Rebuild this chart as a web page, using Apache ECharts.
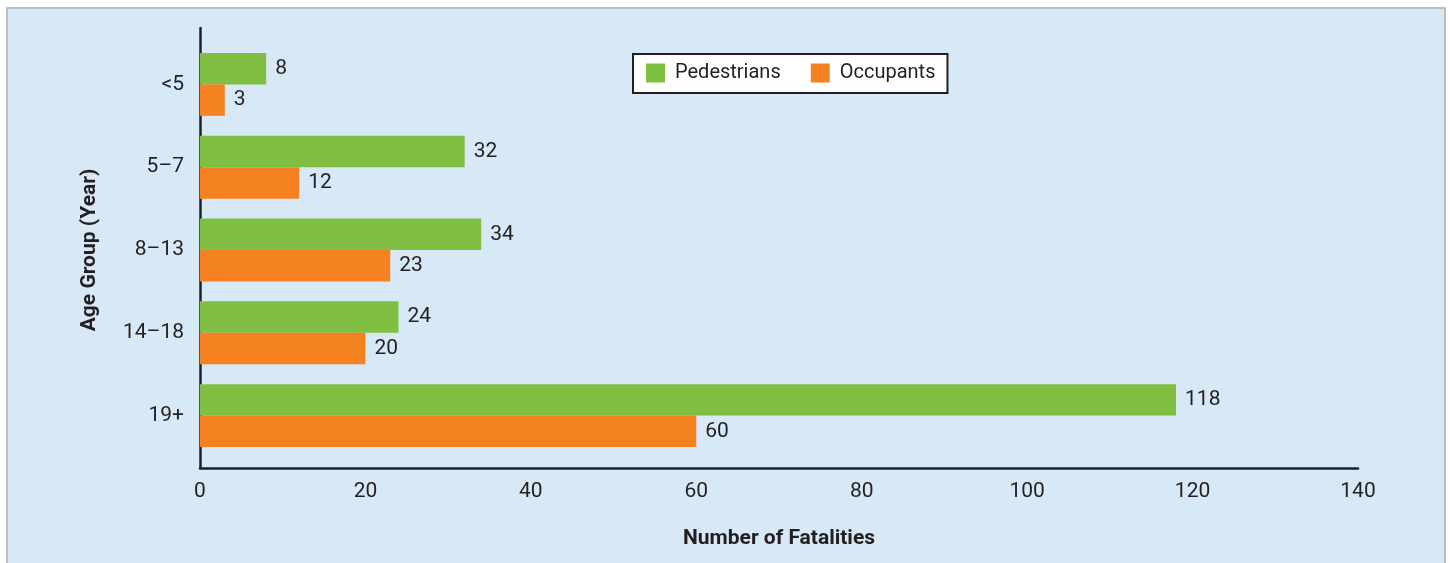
<!DOCTYPE html>
<html>
<head>
<meta charset="utf-8">
<script src="https://cdn.jsdelivr.net/npm/echarts@6/dist/echarts.min.js"></script>
<style>
html,body{margin:0;padding:0;background:#fff;}
#chart{width:1450px;height:563px;}
</style>
</head>
<body>
<div id="chart"></div>
<script>
const categories = ['<5', '5\u20137', '8\u201313', '14\u201318', '19+'];
const pedestrians = [8, 32, 34, 24, 118];
const occupants = [3, 12, 23, 20, 60];
const xTicks = { min: 0, max: 140, interval: 20 };

const FONT = 'Roboto, "Liberation Sans", sans-serif';
const INK = '#231f20';
const FS = 21;

const chart = echarts.init(document.getElementById('chart'));
chart.setOption({
  animation: false,
  backgroundColor: 'transparent',
  graphic: [{
    type: 'rect', z: -10, silent: true,
    shape: { x: 7, y: 8, width: 1438, height: 560 },
    style: { fill: '#d7e9f7', stroke: '#bdbdbd', lineWidth: 2 }
  }],
  legend: {
    left: 633, top: 54,
    orient: 'horizontal',
    backgroundColor: '#ffffff',
    borderColor: INK, borderWidth: 2,
    padding: [9, 12, 10, 13],
    itemWidth: 19, itemHeight: 19, itemGap: 30,
    icon: 'rect',
    textStyle: { fontFamily: FONT, fontSize: 20, color: INK, padding: [0, 0, 0, 5] },
    data: ['Pedestrians', 'Occupants']
  },
  grid: [
    { left: 200, width: 1158, top: 43, height: 414, containLabel: false },
    { left: 200, width: 1158, top: 28, height: 440, containLabel: false }
  ],
  xAxis: [{
    gridIndex: 0, type: 'value', min: xTicks.min, max: xTicks.max, interval: xTicks.interval,
    offset: 11,
    axisLine: { show: true, lineStyle: { color: INK, width: 2.5 } },
    axisTick: { show: false },
    splitLine: { show: false },
    axisLabel: { fontFamily: FONT, fontSize: FS, color: INK, margin: 13 },
    name: 'Number of Fatalities', nameLocation: 'middle', nameGap: 60,
    nameTextStyle: { fontFamily: FONT, fontSize: 21, fontWeight: 'bold', color: INK }
  }, {
    gridIndex: 1, type: 'value', min: 0, max: 140, show: false
  }],
  yAxis: [{
    gridIndex: 0, type: 'category', data: categories, inverse: true,
    axisLine: { show: false },
    axisTick: { show: false },
    axisLabel: { fontFamily: FONT, fontSize: FS, color: INK, margin: 16 },
    name: 'Age Group (Year)', nameLocation: 'middle', nameGap: 100, nameRotate: 90,
    nameTextStyle: { fontFamily: FONT, fontSize: 21, fontWeight: 'bold', color: INK }
  }, {
    gridIndex: 1, type: 'value', min: 0, max: 1,
    axisLine: { show: true, lineStyle: { color: INK, width: 2.5 } },
    axisTick: { show: false }, axisLabel: { show: false }, splitLine: { show: false }
  }],
  series: [{
    name: 'Pedestrians', type: 'bar', xAxisIndex: 0, yAxisIndex: 0,
    data: pedestrians,
    itemStyle: { color: '#80bf41' },
    barGap: '0%', barCategoryGap: '24%',
    label: { show: true, position: 'right', distance: 9, fontFamily: FONT, fontSize: FS, color: INK }
  }, {
    name: 'Occupants', type: 'bar', xAxisIndex: 0, yAxisIndex: 0,
    data: occupants,
    itemStyle: { color: '#f58220' },
    barGap: '0%', barCategoryGap: '24%',
    label: { show: true, position: 'right', distance: 9, fontFamily: FONT, fontSize: FS, color: INK }
  }]
});
</script>
</body>
</html>
